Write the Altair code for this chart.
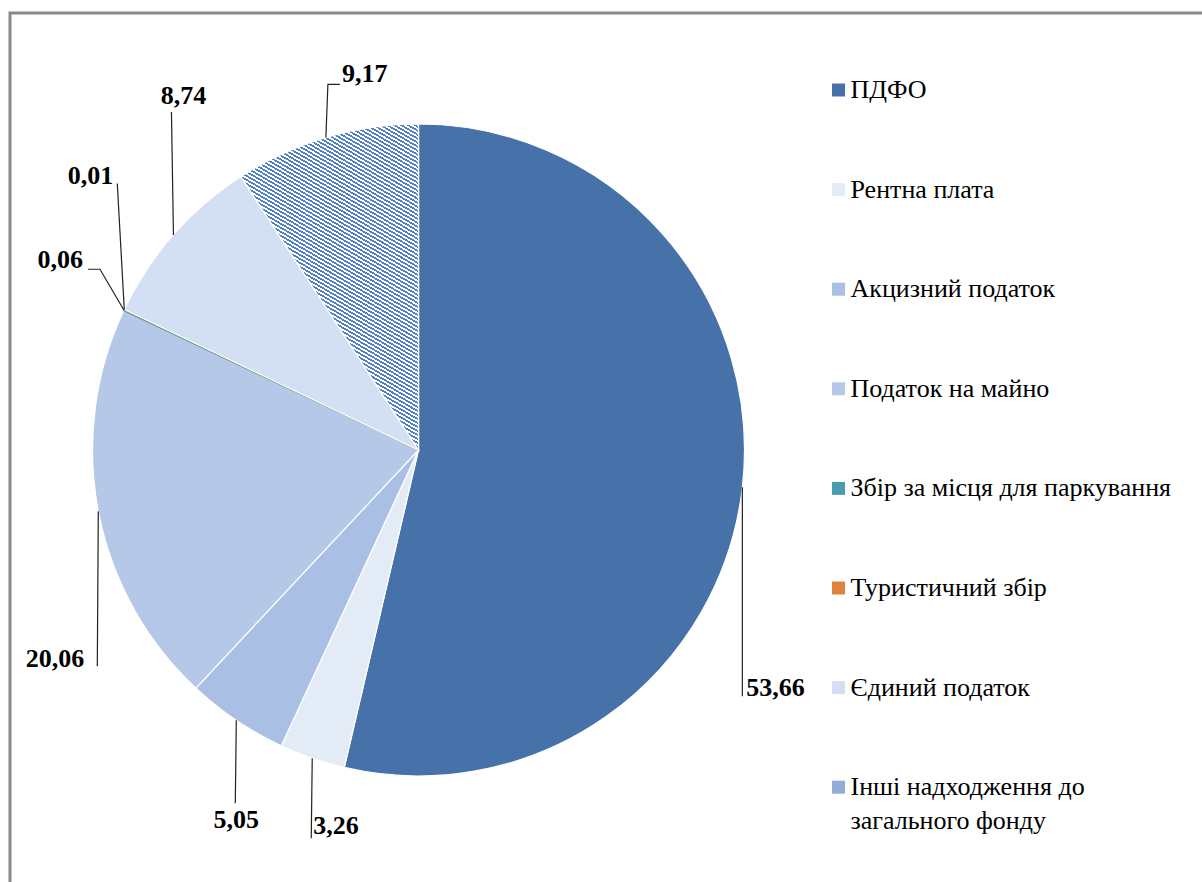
import math
import altair as alt
import pandas as pd

# ---------------- data ----------------
categories = ["ПДФО", "Рентна плата", "Акцизний податок", "Податок на майно",
              "Збір за місця для паркування", "Туристичний збір", "Єдиний податок",
              "Інші надходження до загального фонду"]
values = [53.66, 3.26, 5.05, 20.06, 0.06, 0.01, 8.74, 9.17]
value_labels = ["53,66", "3,26", "5,05", "20,06", "0,06", "0,01", "8,74", "9,17"]
legend_labels = ["ПДФО", "Рентна плата", "Акцизний податок", "Податок на майно",
                 "Збір за місця для паркування", "Туристичний збір", "Єдиний податок",
                 "Інші надходження до\nзагального фонду"]

# ---------------- style ----------------
colors = ["#4672A9", "#E3EBF7", "#A9C0E4", "#B5C8E8", "#4A9BB2", "#E0823D", "#D3DFF2", "#93ADD8"]
strokes = ["white", "white", "white", "white", "#4A9BB2", "#E0823D", "white", "white"]
CX, CY, R = 418.5, 450.0, 326.0
FONT = "Liberation Serif, DejaVu Serif, serif"
# leader-line bends and label offsets, relative to the slice's anchor on the rim
leader_offsets = [[(0, 209)], [(-1, 80)], [(-1, 83)], [(-1, 155)],
                  [(-24, -41), (-36, -41)], [(-7, -126)], [(-2, -123)],
                  [(2, -53), (14, -53)]]
text_offsets = [(4, 201, "left"), (1, 68, "left"), (0, 100, "center"), (-14, 148, "right"),
                (-41, -50, "right"), (-11, -134, "right"), (10, -139, "center"), (16, -63, "left")]
LEG_X, LEG_Y0, LEG_STEP = 838.5, 90.0, 99.6

# diagonal hatch for the "Інші" slice, drawn as a hard-stop linear gradient
N_STRIPES = 107
stops = []
for j in range(N_STRIPES):
    a, b, c = j / N_STRIPES, (j + 0.5) / N_STRIPES, (j + 1) / N_STRIPES
    stops += [{"offset": a, "color": "#4F7EC4"}, {"offset": b, "color": "#4F7EC4"},
              {"offset": b, "color": "#FFFFFF"}, {"offset": c, "color": "#FFFFFF"}]
hatch = {"gradient": "linear", "x1": 0, "y1": 1, "x2": 0.377, "y2": -0.196, "stops": stops}

# ---------------- derived tables ----------------
total = sum(values)
pie = pd.DataFrame({"cat": categories, "value": values, "idx": range(len(values))})

line_rows, text_rows = [], []
cum = 0.0
for i, v in enumerate(values):
    mid = (cum + v / 2) / total * 2 * math.pi
    cum += v
    ax = CX + R * math.sin(mid)
    ay = CY - R * math.cos(mid)
    pts = [(ax, ay)] + [(ax + dx, ay + dy) for dx, dy in leader_offsets[i]]
    for k, (px, py) in enumerate(pts):
        line_rows.append({"id": i, "k": k, "px": px, "py": py})
    dx, dy, al = text_offsets[i]
    text_rows.append({"id": i, "tx": ax + dx, "ty": ay + dy, "label": value_labels[i], "align": al})
lines = pd.DataFrame(line_rows)
texts = pd.DataFrame(text_rows)

leg = pd.DataFrame({"cat": categories, "label": legend_labels,
                    "ly": [LEG_Y0 + i * LEG_STEP for i in range(len(categories))],
                    "lx": [LEG_X] * len(categories)})

cscale = alt.Scale(domain=categories, range=colors)
sscale = alt.Scale(domain=categories, range=strokes)

frame = alt.Chart(pd.DataFrame({"a": [0]})).mark_rect(
    fill=None, stroke="#8A8A8A", strokeWidth=3
).encode(x=alt.value(10), x2=alt.value(1220), y=alt.value(13), y2=alt.value(900))

arcs = alt.Chart(pie).mark_arc(radius=R, strokeWidth=1.2).encode(
    theta=alt.Theta("value:Q", stack=True),
    order=alt.Order("idx:Q"),
    color=alt.Color("cat:N", scale=cscale, legend=None),
    stroke=alt.Stroke("cat:N", scale=sscale, legend=None),
    x=alt.value(CX), y=alt.value(CY),
)

hatch_arc = alt.Chart(pie).mark_arc(radius=R, fill=hatch, stroke="white", strokeWidth=1.2).encode(
    theta=alt.Theta("value:Q", stack=True),
    order=alt.Order("idx:Q"),
    opacity=alt.condition(alt.datum.idx == 7, alt.value(1), alt.value(0)),
    x=alt.value(CX), y=alt.value(CY),
)

leaders = alt.Chart(lines).mark_line(color="#222222", strokeWidth=1.2).encode(
    x=alt.X("px:Q", scale=None, axis=None),
    y=alt.Y("py:Q", scale=None, axis=None),
    detail="id:N",
    order="k:Q",
)

def label_layer(al):
    return alt.Chart(texts[texts["align"] == al]).mark_text(
        font=FONT, fontSize=26, fontWeight="bold", align=al, baseline="middle", color="black"
    ).encode(
        x=alt.X("tx:Q", scale=None, axis=None),
        y=alt.Y("ty:Q", scale=None, axis=None),
        text="label:N",
    )

leg_sym = alt.Chart(leg).mark_square(size=169, opacity=1).encode(
    x=alt.X("lx:Q", scale=None, axis=None),
    y=alt.Y("ly:Q", scale=None, axis=None),
    color=alt.Color("cat:N", scale=cscale, legend=None),
)
leg_txt = alt.Chart(leg).mark_text(
    font=FONT, fontSize=26, align="left", baseline="middle", dx=12,
    lineBreak="\n", lineHeight=34, color="black"
).encode(
    x=alt.X("lx:Q", scale=None, axis=None),
    y=alt.Y("ly:Q", scale=None, axis=None),
    text="label:N",
)

chart = alt.layer(
    frame, arcs, hatch_arc, leaders, label_layer("left"), label_layer("center"),
    label_layer("right"), leg_sym, leg_txt
).properties(
    width=1202, height=882, padding=0, autosize=alt.AutoSizeParams(type="none"),
    background="white"
).configure_view(stroke=None)

chart.save("out.html", embed_options={"renderer": "svg", "actions": False})
